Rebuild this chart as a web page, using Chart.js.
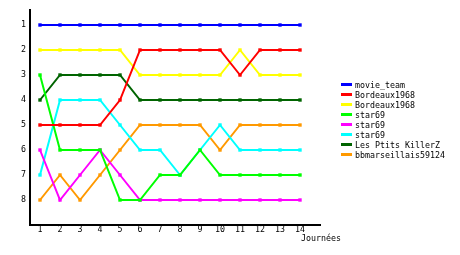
<!DOCTYPE html>
<html>
<head>
<meta charset="utf-8">
<script src="https://cdn.jsdelivr.net/npm/chart.js@4"></script>
<style>
  html, body { margin: 0; padding: 0; background: #fff; }
  #wrap { width: 460px; height: 255px; }
</style>
</head>
<body>
<div id="wrap"><canvas id="graficoRang" width="460" height="255"></canvas></div>
<script>
// journées et classements
const journees = [1, 2, 3, 4, 5, 6, 7, 8, 9, 10, 11, 12, 13, 14];
const rangs = [1, 2, 3, 4, 5, 6, 7, 8];

const equipes = ['movie_team', 'Bordeaux1968', 'Bordeaux1968', 'star69', 'star69', 'star69', 'Les Ptits KillerZ', 'bbmarseillais59124'];
const couleurs = ['#0000ff', '#ff0000', '#ffff00', '#00ff00', '#ff00ff', '#00ffff', '#006400', '#ff9900'];

const movieTeam   = [1, 1, 1, 1, 1, 1, 1, 1, 1, 1, 1, 1, 1, 1];
const bordeauxA   = [5, 5, 5, 5, 4, 2, 2, 2, 2, 2, 3, 2, 2, 2];
const bordeauxB   = [2, 2, 2, 2, 2, 3, 3, 3, 3, 3, 2, 3, 3, 3];
const star69A     = [3, 6, 6, 6, 8, 8, 7, 7, 6, 7, 7, 7, 7, 7];
const star69B     = [6, 8, 7, 6, 7, 8, 8, 8, 8, 8, 8, 8, 8, 8];
const star69C     = [7, 4, 4, 4, 5, 6, 6, 7, 6, 5, 6, 6, 6, 6];
const ptitsKiller = [4, 3, 3, 3, 3, 4, 4, 4, 4, 4, 4, 4, 4, 4];
const bbMarseille = [8, 7, 8, 7, 6, 5, 5, 5, 5, 6, 5, 5, 5, 5];

const series = [movieTeam, bordeauxA, bordeauxB, star69A, star69B, star69C, ptitsKiller, bbMarseille];

const police = '"DejaVu Sans Mono", monospace';

// légende dessinée à droite
const legendePlugin = {
  id: 'legende',
  afterDraw(chart) {
    const ctx = chart.ctx;
    ctx.save();
    ctx.font = '8.3px ' + police;
    ctx.textBaseline = 'middle';
    chart.data.datasets.forEach((ds, i) => {
      const y = 85 + i * 10;
      ctx.fillStyle = ds.borderColor;
      ctx.fillRect(341, y - 2, 11, 3);
      ctx.fillStyle = '#000';
      ctx.fillText(ds.label, 355, y + 1);
    });
    // titre de l'axe x
    ctx.fillStyle = '#000';
    ctx.fillText('Journées', 301, 239);
    ctx.restore();
  }
};

new Chart(document.getElementById('graficoRang'), {
  type: 'line',
  data: {
    datasets: series.map((s, i) => ({
      label: equipes[i],
      data: s.map((v, j) => ({ x: journees[j], y: v })),
      borderColor: couleurs[i],
      backgroundColor: couleurs[i],
      borderWidth: 2,
      pointStyle: 'rect',
      pointRadius: 2.4,
      pointBorderWidth: 0,
      tension: 0,
      fill: false
    }))
  },
  options: {
    responsive: false,
    animation: false,
    events: [],
    layout: { padding: { top: 10, right: 140, left: 0, bottom: 0 } },
    plugins: {
      legend: { display: false },
      tooltip: { enabled: false }
    },
    scales: {
      x: {
        type: 'linear',
        min: 0.5,
        max: 15,
        grid: { display: false, drawTicks: false, tickLength: 0 },
        border: { color: '#000', width: 2 },
        afterBuildTicks: s => { s.ticks = journees.map(v => ({ value: v })); },
        afterFit: s => { s.height = 30; },
        ticks: { color: '#000', padding: 0, maxRotation: 0, font: { family: police, size: 8.3 } }
      },
      y: {
        type: 'linear',
        reverse: true,
        min: 0.4,
        max: 9,
        grid: { display: false, drawTicks: false, tickLength: 0 },
        border: { color: '#000', width: 2 },
        afterBuildTicks: s => { s.ticks = rangs.map(v => ({ value: v })); },
        afterFit: s => { s.width = 30; },
        ticks: { color: '#000', padding: 4, font: { family: police, size: 8.3 } }
      }
    }
  },
  plugins: [legendePlugin]
});
</script>
</body>
</html>
